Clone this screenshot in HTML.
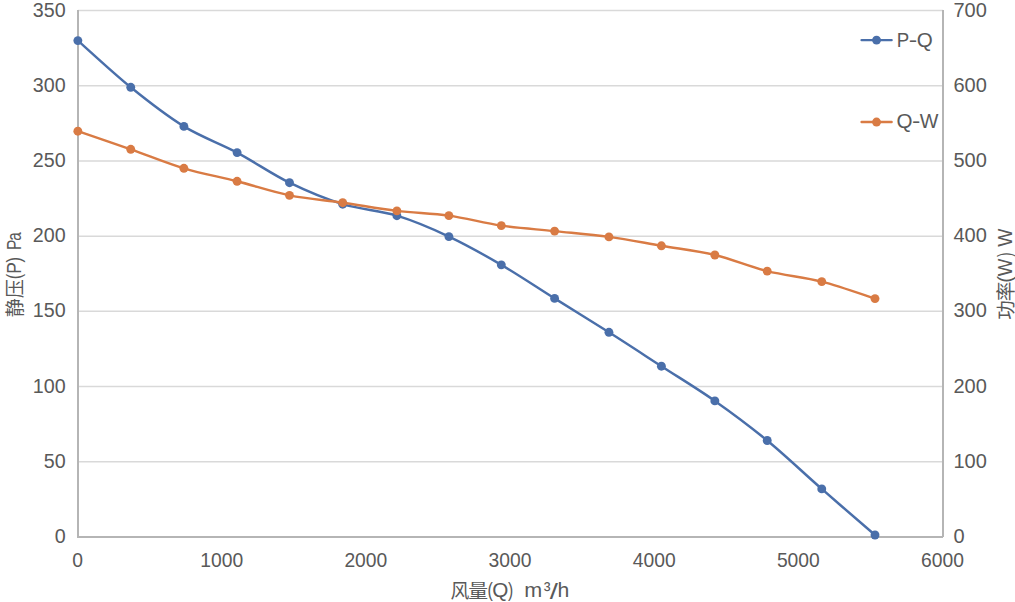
<!DOCTYPE html>
<html><head><meta charset="utf-8"><title>P-Q / Q-W chart</title>
<style>
html,body{margin:0;padding:0;background:#fff;}
body{width:1015px;height:602px;overflow:hidden;}
svg{display:block;}
text{font-family:"Liberation Sans","Noto Sans CJK SC",sans-serif;fill:#595959;}
</style></head><body>
<svg width="1015" height="602" viewBox="0 0 1015 602">
<rect width="1015" height="602" fill="#fff"/>
<g><line x1="78.0" y1="461.79" x2="943.0" y2="461.79" stroke="#D9D9D9" stroke-width="1.5"/><line x1="78.0" y1="386.57" x2="943.0" y2="386.57" stroke="#D9D9D9" stroke-width="1.5"/><line x1="78.0" y1="311.36" x2="943.0" y2="311.36" stroke="#D9D9D9" stroke-width="1.5"/><line x1="78.0" y1="236.14" x2="943.0" y2="236.14" stroke="#D9D9D9" stroke-width="1.5"/><line x1="78.0" y1="160.93" x2="943.0" y2="160.93" stroke="#D9D9D9" stroke-width="1.5"/><line x1="78.0" y1="85.71" x2="943.0" y2="85.71" stroke="#D9D9D9" stroke-width="1.5"/><line x1="78.0" y1="10.50" x2="943.0" y2="10.50" stroke="#D9D9D9" stroke-width="1.5"/></g>
<line x1="78.0" y1="10.0" x2="78.0" y2="538.0" stroke="#B5B5B5" stroke-width="2"/>
<line x1="943.0" y1="10.0" x2="943.0" y2="537.0" stroke="#B5B5B5" stroke-width="2"/>
<line x1="77.0" y1="537.0" x2="943.0" y2="537.0" stroke="#B5B5B5" stroke-width="2"/>
<path d="M77.85,40.60 C86.67,48.38 113.08,73.00 130.75,87.30 C148.43,101.60 166.18,115.52 183.90,126.40 C201.62,137.28 219.50,143.22 237.10,152.60 C254.70,161.98 271.90,174.10 289.50,182.70 C307.10,191.30 324.80,198.70 342.70,204.20 C360.60,209.70 379.20,210.30 396.90,215.70 C414.60,221.10 431.50,228.41 448.90,236.60 C466.30,244.79 483.68,254.55 501.30,264.85 C518.92,275.15 536.66,287.16 554.60,298.40 C572.54,309.64 591.15,321.00 608.95,332.30 C626.75,343.60 643.75,354.77 661.40,366.20 C679.05,377.63 697.22,388.52 714.85,400.90 C732.48,413.28 749.38,425.83 767.20,440.50 C785.02,455.17 803.78,473.15 821.75,488.90 C839.72,504.65 866.12,527.32 875.00,535.00" fill="none" stroke="#4A6FAA" stroke-width="2.45" stroke-linejoin="round" stroke-linecap="round"/>
<g fill="#4A6FAA"><circle cx="77.85" cy="40.60" r="4.45"/><circle cx="130.75" cy="87.30" r="4.45"/><circle cx="183.90" cy="126.40" r="4.45"/><circle cx="237.10" cy="152.60" r="4.45"/><circle cx="289.50" cy="182.70" r="4.45"/><circle cx="342.70" cy="204.20" r="4.45"/><circle cx="396.90" cy="215.70" r="4.45"/><circle cx="448.90" cy="236.60" r="4.45"/><circle cx="501.30" cy="264.85" r="4.45"/><circle cx="554.60" cy="298.40" r="4.45"/><circle cx="608.95" cy="332.30" r="4.45"/><circle cx="661.40" cy="366.20" r="4.45"/><circle cx="714.85" cy="400.90" r="4.45"/><circle cx="767.20" cy="440.50" r="4.45"/><circle cx="821.75" cy="488.90" r="4.45"/><circle cx="875.00" cy="535.00" r="4.45"/></g>
<path d="M77.85,131.20 C86.67,134.22 113.08,143.12 130.75,149.30 C148.43,155.48 166.18,162.97 183.90,168.30 C201.62,173.63 219.50,176.79 237.10,181.30 C254.70,185.81 271.90,191.78 289.50,195.35 C307.10,198.92 324.80,200.11 342.70,202.70 C360.60,205.29 379.20,208.75 396.90,210.90 C414.60,213.05 431.50,213.15 448.90,215.60 C466.30,218.05 483.68,223.02 501.30,225.60 C518.92,228.18 536.66,229.22 554.60,231.10 C572.54,232.98 591.15,234.45 608.95,236.90 C626.75,239.35 643.75,242.78 661.40,245.80 C679.05,248.82 697.22,250.78 714.85,255.00 C732.48,259.22 749.38,266.67 767.20,271.10 C785.02,275.53 803.78,277.02 821.75,281.60 C839.72,286.18 866.12,295.77 875.00,298.60" fill="none" stroke="#D97B44" stroke-width="2.45" stroke-linejoin="round" stroke-linecap="round"/>
<g fill="#D97B44"><circle cx="77.85" cy="131.20" r="4.45"/><circle cx="130.75" cy="149.30" r="4.45"/><circle cx="183.90" cy="168.30" r="4.45"/><circle cx="237.10" cy="181.30" r="4.45"/><circle cx="289.50" cy="195.35" r="4.45"/><circle cx="342.70" cy="202.70" r="4.45"/><circle cx="396.90" cy="210.90" r="4.45"/><circle cx="448.90" cy="215.60" r="4.45"/><circle cx="501.30" cy="225.60" r="4.45"/><circle cx="554.60" cy="231.10" r="4.45"/><circle cx="608.95" cy="236.90" r="4.45"/><circle cx="661.40" cy="245.80" r="4.45"/><circle cx="714.85" cy="255.00" r="4.45"/><circle cx="767.20" cy="271.10" r="4.45"/><circle cx="821.75" cy="281.60" r="4.45"/><circle cx="875.00" cy="298.60" r="4.45"/></g>
<g><text transform="translate(65.6,543) scale(0.985,1)" text-anchor="end" font-size="20">0</text><text transform="translate(65.6,468) scale(0.985,1)" text-anchor="end" font-size="20">50</text><text transform="translate(65.6,393) scale(0.985,1)" text-anchor="end" font-size="20">100</text><text transform="translate(65.6,317) scale(0.985,1)" text-anchor="end" font-size="20">150</text><text transform="translate(65.6,242) scale(0.985,1)" text-anchor="end" font-size="20">200</text><text transform="translate(65.6,167) scale(0.985,1)" text-anchor="end" font-size="20">250</text><text transform="translate(65.6,92) scale(0.985,1)" text-anchor="end" font-size="20">300</text><text transform="translate(65.6,17) scale(0.985,1)" text-anchor="end" font-size="20">350</text><text transform="translate(953.4,543)" font-size="20">0</text><text transform="translate(953.4,468)" font-size="20">100</text><text transform="translate(953.4,393)" font-size="20">200</text><text transform="translate(953.4,317)" font-size="20">300</text><text transform="translate(953.4,242)" font-size="20">400</text><text transform="translate(953.4,167)" font-size="20">500</text><text transform="translate(953.4,92)" font-size="20">600</text><text transform="translate(953.4,17)" font-size="20">700</text><text transform="translate(77.50,567.1) scale(0.965,1)" text-anchor="middle" font-size="20">0</text><text transform="translate(221.67,567.1) scale(0.965,1)" text-anchor="middle" font-size="20">1000</text><text transform="translate(365.83,567.1) scale(0.965,1)" text-anchor="middle" font-size="20">2000</text><text transform="translate(510.00,567.1) scale(0.965,1)" text-anchor="middle" font-size="20">3000</text><text transform="translate(654.17,567.1) scale(0.965,1)" text-anchor="middle" font-size="20">4000</text><text transform="translate(798.33,567.1) scale(0.965,1)" text-anchor="middle" font-size="20">5000</text><text transform="translate(942.50,567.1) scale(0.965,1)" text-anchor="middle" font-size="20">6000</text></g>
<text><tspan x="450.46" y="598.30" font-size="19" textLength="18.85" lengthAdjust="spacingAndGlyphs">风</tspan><tspan x="468.18" y="598.30" font-size="19" textLength="19.85" lengthAdjust="spacingAndGlyphs">量</tspan><tspan x="487.40" y="597.10" font-size="20" textLength="5.34" lengthAdjust="spacingAndGlyphs">(</tspan><tspan x="492.26" y="597.10" font-size="20" textLength="16.11" lengthAdjust="spacingAndGlyphs">Q</tspan><tspan x="508.01" y="597.10" font-size="20" textLength="5.20" lengthAdjust="spacingAndGlyphs">)</tspan>  <tspan x="524.21" y="597.10" font-size="20" textLength="17.98" lengthAdjust="spacingAndGlyphs">m</tspan><tspan x="543.75" y="597.10" font-size="20" textLength="6.78" lengthAdjust="spacingAndGlyphs">³</tspan><tspan x="549.70" y="599.24" font-size="22.4" textLength="8.20" lengthAdjust="spacingAndGlyphs">/</tspan><tspan x="557.54" y="597.10" font-size="20" textLength="11.78" lengthAdjust="spacingAndGlyphs">h</tspan></text>
<text transform="translate(20.9,316) rotate(-90)"><tspan x="-1.25" y="1.20" font-size="19" textLength="18.98" lengthAdjust="spacingAndGlyphs">静</tspan><tspan x="17.78" y="1.20" font-size="19" textLength="19.12" lengthAdjust="spacingAndGlyphs">压</tspan><tspan x="36.78" y="0.00" font-size="20" textLength="5.46" lengthAdjust="spacingAndGlyphs">(</tspan><tspan x="42.20" y="0.00" font-size="20" textLength="11.55" lengthAdjust="spacingAndGlyphs">P</tspan><tspan x="53.40" y="0.00" font-size="20" textLength="5.45" lengthAdjust="spacingAndGlyphs">)</tspan> <tspan x="66.04" y="0.00" font-size="20" textLength="10.42" lengthAdjust="spacingAndGlyphs">P</tspan><tspan x="75.33" y="0.00" font-size="20" textLength="8.47" lengthAdjust="spacingAndGlyphs">a</tspan></text>
<text transform="translate(1012,319) rotate(-90)"><tspan x="-0.67" y="1.20" font-size="19" textLength="19.54" lengthAdjust="spacingAndGlyphs">功</tspan><tspan x="17.66" y="1.20" font-size="19" textLength="19.69" lengthAdjust="spacingAndGlyphs">率</tspan><tspan x="36.21" y="0.00" font-size="20" textLength="6.86" lengthAdjust="spacingAndGlyphs">(</tspan><tspan x="42.79" y="0.00" font-size="20" textLength="17.54" lengthAdjust="spacingAndGlyphs">W</tspan><tspan x="61.92" y="0.00" font-size="20" textLength="4.57" lengthAdjust="spacingAndGlyphs">)</tspan> <tspan x="72.28" y="0.00" font-size="20" textLength="18.15" lengthAdjust="spacingAndGlyphs">W</tspan></text>
<line x1="861.6" y1="40.12" x2="891.6" y2="40.12" stroke="#4A6FAA" stroke-width="2.45" stroke-linecap="round"/><circle cx="876.55" cy="40.12" r="4.45" fill="#4A6FAA"/><text><tspan x="896.69" y="46.75" font-size="20" textLength="12.43" lengthAdjust="spacingAndGlyphs">P</tspan><tspan x="908.88" y="46.75" font-size="20" textLength="8.49" lengthAdjust="spacingAndGlyphs">-</tspan><tspan x="916.67" y="46.75" font-size="20" textLength="16.00" lengthAdjust="spacingAndGlyphs">Q</tspan></text>
<line x1="861.6" y1="122.05" x2="891.6" y2="122.05" stroke="#D97B44" stroke-width="2.45" stroke-linecap="round"/><circle cx="876.55" cy="122.05" r="4.45" fill="#D97B44"/><text><tspan x="896.47" y="128.40" font-size="20" textLength="16.00" lengthAdjust="spacingAndGlyphs">Q</tspan><tspan x="911.90" y="128.40" font-size="20" textLength="8.36" lengthAdjust="spacingAndGlyphs">-</tspan><tspan x="919.78" y="128.40" font-size="20" textLength="18.66" lengthAdjust="spacingAndGlyphs">W</tspan></text>
</svg>
</body></html>
